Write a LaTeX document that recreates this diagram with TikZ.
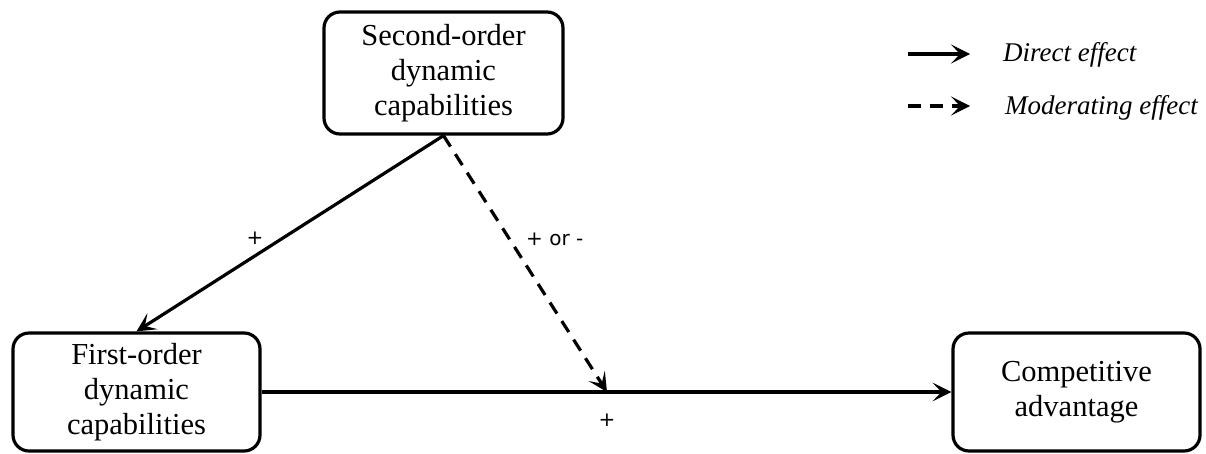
\documentclass[tikz,border=0pt]{standalone}
\usepackage{fontspec}
\setmainfont{Liberation Serif}
\newfontfamily\lblfont{DejaVu Sans}
\usetikzlibrary{arrows.meta}
\begin{document}
\begin{tikzpicture}[x=1pt,y=-1pt,
  box/.style={draw,line width=3.2pt,rounded corners=16pt,align=center,
    font=\fontsize{30.5}{35}\selectfont,inner sep=0pt},
  arr/.style={line width=3.2pt,-{Stealth[length=19pt,width=19pt,inset=9pt]}},
  dsh/.style={arr,dash pattern=on 13pt off 9pt},
  lbl/.style={font=\lblfont\fontsize{20}{22}\selectfont,inner sep=0pt},
  leg/.style={font=\itshape\fontsize{27}{30}\selectfont,inner sep=0pt,anchor=west}]
\useasboundingbox (0,0) rectangle (1206,453);
\node[box,minimum width=239pt,minimum height=122pt] (top) at (443.5,73) {Second-order\\dynamic\\capabilities};
\node[box,minimum width=247pt,minimum height=118pt] (first) at (136.5,392) {First-order\\dynamic\\capabilities};
\node[box,minimum width=247pt,minimum height=118pt] (comp) at (1076.5,392) {Competitive\\advantage};
\coordinate (m) at (607,392);
\draw[arr] (top.south) -- (first.north);
\draw[arr] (first.east) -- (comp.west);
\draw[dsh] (top.south) -- (m);
\node[lbl] (p1) at (255,238) {+};
\node[lbl,anchor=west] (p2) at (526,239) {+ or -};
\node[lbl] (p3) at (607,420) {+};
\coordinate (l1a) at (908,54);
\coordinate (l1b) at (970,54);
\coordinate (l2a) at (908,106);
\coordinate (l2b) at (970,106);
\draw[arr] (l1a) -- (l1b);
\draw[dsh] (l2a) -- (l2b);
\node[leg] (t1) at (1003,55) {Direct effect};
\node[leg] (t2) at (1005,108) {Moderating effect};
\end{tikzpicture}
\end{document}
